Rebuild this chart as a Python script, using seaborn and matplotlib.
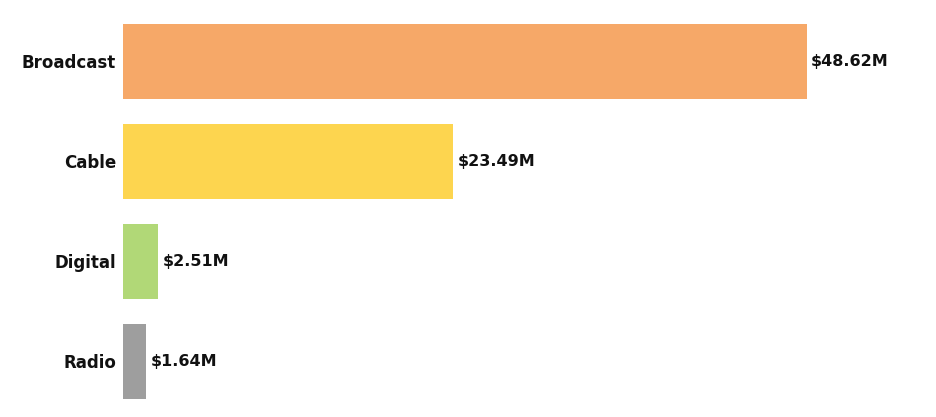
import matplotlib
matplotlib.use("Agg")
import matplotlib.pyplot as plt
import seaborn as sns
import pandas as pd

categories = ["Broadcast", "Cable", "Digital", "Radio"]
values = [48.62, 23.49, 2.51, 1.64]
colors = ["#F6A868", "#FDD54F", "#B1D877", "#9E9E9E"]
labels = ["$48.62M", "$23.49M", "$2.51M", "$1.64M"]

sns.set_theme(style="white")
plt.rcParams['font.family'] = ['DejaVu Sans']

df = pd.DataFrame({"category": categories, "value": values})

fig = plt.figure(figsize=(9.36, 4.17), dpi=100)
ax = fig.add_axes([123/936, 5.5/417, (917-123)/936, 400/417])
sns.barplot(data=df, x="value", y="category", hue="category", palette=colors,
            width=0.75, legend=False, ax=ax, saturation=1, linewidth=0)
ax.set_xlim(0, (917-123)/(684/48.62))
ax.set_ylim(3.5, -0.5)
for i, (v, lab) in enumerate(zip(values, labels)):
    ax.text(v + 0.3, i, lab, va="center", ha="left", fontsize=11.5,
            fontweight="bold", color="#111111")
ax.set_xlabel("")
ax.set_ylabel("")
ax.set_xticks([])
for s in ax.spines.values():
    s.set_visible(False)
ax.tick_params(axis="y", length=0, pad=5, labelsize=12)
for t in ax.get_yticklabels():
    t.set_fontweight("bold")
    t.set_color("#111111")
fig.savefig("out.png", dpi=100)
